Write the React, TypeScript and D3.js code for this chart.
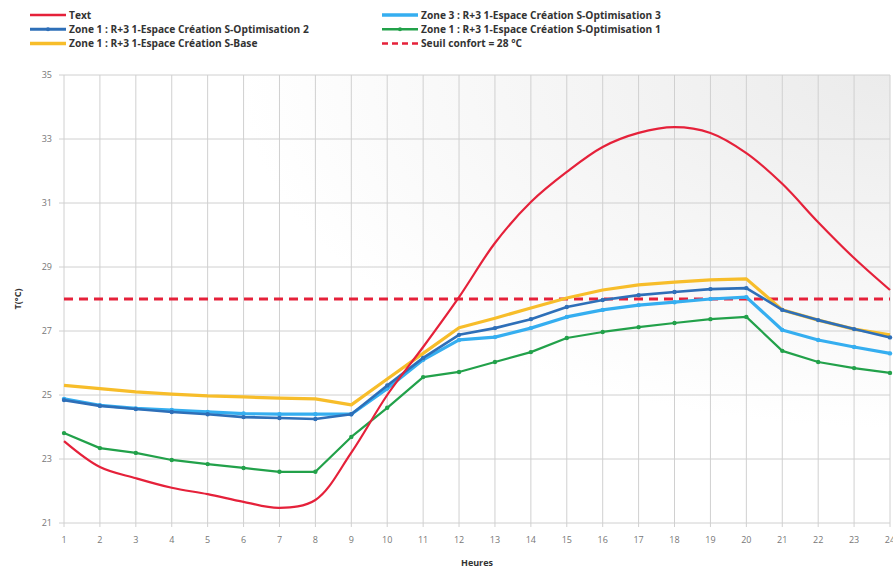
import React from "react";
import * as d3 from "d3";

const hours = d3.range(1, 25);
const yTicks = [21, 23, 25, 27, 29, 31, 33, 35];

const text = [23.56, 22.75, 22.4, 22.1, 21.9, 21.66, 21.47, 21.72, 23.2, 25.0, 26.5, 28.06, 29.75, 31.03, 31.97, 32.75, 33.19, 33.37, 33.19, 32.56, 31.6, 30.4, 29.28, 28.28];
const base = [25.3, 25.2, 25.1, 25.03, 24.97, 24.94, 24.9, 24.88, 24.69, 25.5, 26.3, 27.1, 27.4, 27.72, 28.03, 28.28, 28.44, 28.53, 28.6, 28.63, 27.66, 27.34, 27.06, 26.88];
const opt2 = [24.84, 24.66, 24.56, 24.47, 24.4, 24.31, 24.28, 24.25, 24.4, 25.3, 26.16, 26.88, 27.09, 27.37, 27.75, 27.97, 28.12, 28.22, 28.31, 28.34, 27.66, 27.34, 27.06, 26.8];
const opt3 = [24.88, 24.68, 24.58, 24.53, 24.47, 24.42, 24.4, 24.4, 24.4, 25.2, 26.1, 26.72, 26.81, 27.09, 27.44, 27.66, 27.81, 27.9, 28.0, 28.06, 27.03, 26.72, 26.5, 26.3];
const opt1 = [23.81, 23.34, 23.19, 22.97, 22.84, 22.72, 22.6, 22.6, 23.69, 24.6, 25.56, 25.72, 26.03, 26.34, 26.78, 26.97, 27.12, 27.25, 27.37, 27.44, 26.38, 26.03, 25.84, 25.69];
const threshold = 28;

const W = 893, H = 571;
const M = { left: 64, right: 890, top: 75, bottom: 523 };

export default function App() {
  const x = d3.scaleLinear().domain([1, 24]).range([M.left, M.right]);
  const y = d3.scaleLinear().domain([21, 35]).range([M.bottom, M.top]);
  const straight = d3.line<number>().x((_, i) => x(hours[i])).y((d) => y(d));
  const smooth = d3.line<number>().x((_, i) => x(hours[i])).y((d) => y(d)).curve(d3.curveCatmullRom.alpha(0.5));

  const series = [
    { data: base, color: "#f7bd2a", width: 3.2, marker: false, name: "Zone 1 : R+3 1-Espace Création S-Base" },
    { data: opt3, color: "#35aef0", width: 3.2, marker: true, name: "Zone 3 : R+3 1-Espace Création S-Optimisation 3" },
    { data: opt2, color: "#2e6fb8", width: 2.6, marker: true, name: "Zone 1 : R+3 1-Espace Création S-Optimisation 2" },
    { data: opt1, color: "#22a14a", width: 2.2, marker: true, name: "Zone 1 : R+3 1-Espace Création S-Optimisation 1" },
  ];
  const red = "#e5213a";
  const font = "'Open Sans', 'Liberation Sans', sans-serif";

  const legend = [
    { col: 0, row: 0, color: red, w: 2.5, dash: null, marker: false, label: "Text" },
    { col: 0, row: 1, color: "#2e6fb8", w: 3, dash: null, marker: true, label: series[2].name },
    { col: 0, row: 2, color: "#f7bd2a", w: 3.5, dash: null, marker: false, label: series[0].name },
    { col: 1, row: 0, color: "#35aef0", w: 3.5, dash: null, marker: false, label: series[1].name },
    { col: 1, row: 1, color: "#22a14a", w: 2.5, dash: null, marker: true, label: series[3].name },
    { col: 1, row: 2, color: red, w: 2.5, dash: "6,4", marker: false, label: "Seuil confort = 28 °C" },
  ];

  return (
    <svg width={W} height={H} style={{ position: "absolute", left: 0, top: 0, background: "#fff" }}>
      <defs>
        <radialGradient id="bg" cx="1" cy="0" r="1.05" gradientUnits="objectBoundingBox">
          <stop offset="0" stopColor="#ebebeb" />
          <stop offset="0.75" stopColor="#ffffff" />
        </radialGradient>
      </defs>
      <rect x={M.left} y={M.top} width={M.right - M.left} height={M.bottom - M.top} fill="url(#bg)" />
      {yTicks.map((t) => (
        <g key={"y" + t}>
          <line x1={M.left - 5} x2={M.right} y1={y(t)} y2={y(t)} stroke="#d0d0d0" strokeWidth={1} />
          <text x={M.left - 12} y={y(t) + 3} fontSize={9} fill="#777" textAnchor="end" fontFamily={font}>{t}</text>
        </g>
      ))}
      {hours.map((h) => (
        <g key={"x" + h}>
          <line x1={x(h)} x2={x(h)} y1={M.top} y2={M.bottom + 4} stroke="#d0d0d0" strokeWidth={1} />
          <text x={x(h)} y={M.bottom + 20} fontSize={9} fill="#777" textAnchor="middle" fontFamily={font}>{h}</text>
        </g>
      ))}
      <line x1={M.left} x2={M.right} y1={y(threshold)} y2={y(threshold)} stroke={red} strokeWidth={3} strokeDasharray="9,6" />
      {series.map((s) => (
        <g key={s.name}>
          <path d={straight(s.data) || ""} fill="none" stroke={s.color} strokeWidth={s.width} strokeLinejoin="round" />
          {s.marker && s.data.map((v, i) => (
            <circle key={i} cx={x(hours[i])} cy={y(v)} r={2.2} fill={s.color} />
          ))}
        </g>
      ))}
      <path d={smooth(text) || ""} fill="none" stroke={red} strokeWidth={2.2} />
      <text transform={`translate(21,${(M.top + M.bottom) / 2}) rotate(-90)`} textAnchor="middle" fontSize={9} fontWeight="bold" fill="#333" fontFamily={font}>T(°C)</text>
      <text x={(M.left + M.right) / 2} y={566} textAnchor="middle" fontSize={9} fontWeight="bold" fill="#333" fontFamily={font}>Heures</text>
      {legend.map((l) => {
        const lx = l.col === 0 ? 30 : 382;
        const ly = 15 + l.row * 14.3;
        return (
          <g key={l.label}>
            <line x1={lx} x2={lx + 36} y1={ly} y2={ly} stroke={l.color} strokeWidth={l.w} strokeDasharray={l.dash || undefined} />
            {l.marker && <circle cx={lx + 18} cy={ly} r={2} fill={l.color} />}
            <text x={lx + 39} y={ly + 3.5} fontSize={10.2} fontWeight="bold" fill="#333" fontFamily={font}>{l.label}</text>
          </g>
        );
      })}
    </svg>
  );
}
